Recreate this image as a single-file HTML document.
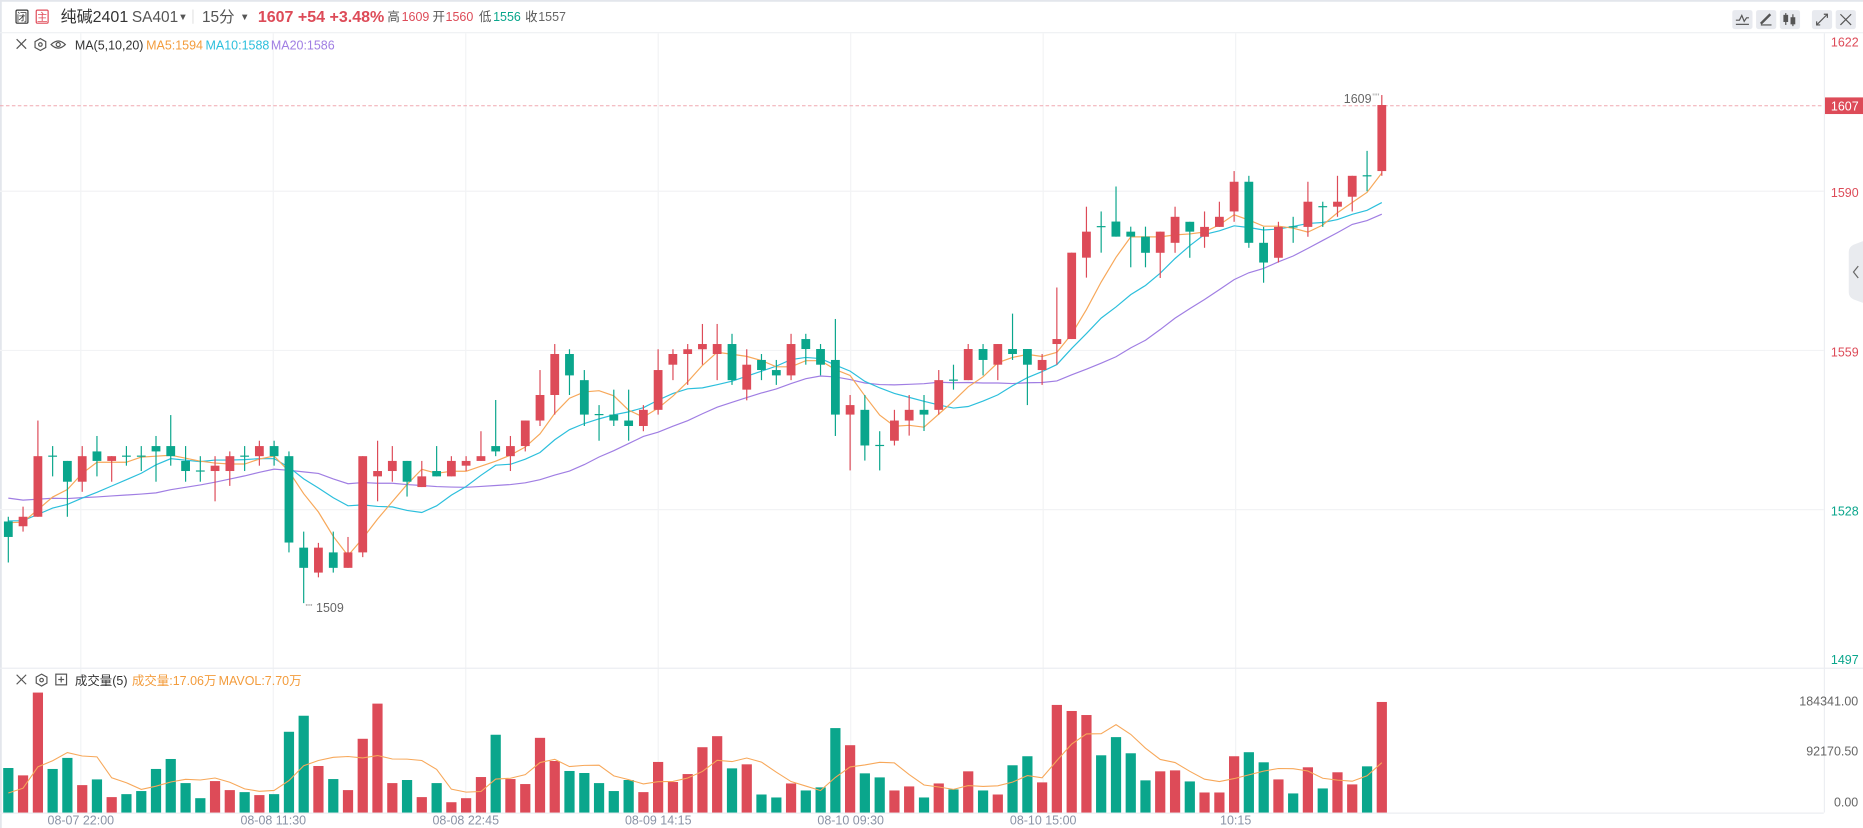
<!DOCTYPE html>
<html><head><meta charset="utf-8"><style>
html,body{margin:0;padding:0;background:#fff;overflow:hidden}
svg{display:block}
text{font-family:"Liberation Sans","Noto Sans CJK SC",sans-serif}
</style></head><body>
<svg id="s" width="1863" height="828" viewBox="0 0 1568 697" preserveAspectRatio="none" xmlns="http://www.w3.org/2000/svg">
<rect x="0" y="0" width="1568" height="697" fill="#fff"/>
<rect x="0" y="0" width="1568" height="1.5" fill="#e3e6ec"/>
<rect x="0" y="0" width="1.5" height="697" fill="#e3e6ec"/>
<line x1="0" y1="27.5" x2="1568" y2="27.5" stroke="#eef0f3" stroke-width="1"/>
<g id="grid" stroke="#f2f3f5" stroke-width="1">
<line x1="0" y1="161" x2="1535" y2="161"/>
<line x1="0" y1="295" x2="1535" y2="295"/>
<line x1="0" y1="429" x2="1535" y2="429"/>
<line x1="68" y1="28" x2="68" y2="684"/>
<line x1="230" y1="28" x2="230" y2="684"/>
<line x1="392" y1="28" x2="392" y2="684"/>
<line x1="554" y1="28" x2="554" y2="684"/>
<line x1="716" y1="28" x2="716" y2="684"/>
<line x1="878" y1="28" x2="878" y2="684"/>
<line x1="1040" y1="28" x2="1040" y2="684"/>
</g>
<line x1="0" y1="562.5" x2="1568" y2="562.5" stroke="#eceef2"/>
<line x1="0" y1="684.5" x2="1535" y2="684.5" stroke="#eceef2"/>
<line x1="1535.5" y1="28" x2="1535.5" y2="684" stroke="#eceef2"/>
<!-- header -->
<rect x="13.5" y="8.5" width="10" height="11" fill="none" stroke="#333" stroke-width="1" rx="1"/>
<text x="18.5" y="17.5" font-size="9" text-anchor="middle" fill="#333">闭</text>
<rect x="30.5" y="8.5" width="10" height="11" fill="none" stroke="#e04b58" stroke-width="1" rx="1"/>
<text x="35.5" y="17.5" font-size="9" text-anchor="middle" fill="#e04b58">主</text>
<text x="51" y="18.5" font-size="13.5" fill="#333">纯碱2401</text>
<text x="111" y="18.5" font-size="13" fill="#555">SA401</text>
<text x="150" y="17" font-size="8" fill="#555">▼</text>
<rect x="162" y="8" width="0.8" height="12" fill="#ddd"/>
<text x="170" y="18.5" font-size="13" fill="#555">15分</text>
<text x="202" y="17" font-size="8" fill="#555">▼</text>
<text x="217" y="18.5" font-size="13.5" font-weight="bold" fill="#dd4b58">1607 +54 +3.48%</text>
<text x="326" y="17.5" font-size="10.5" fill="#555">高</text>
<text x="338" y="17.5" font-size="10.5" fill="#dd4b58">1609</text>
<text x="364" y="17.5" font-size="10.5" fill="#555">开</text>
<text x="375" y="17.5" font-size="10.5" fill="#dd4b58">1560</text>
<text x="403" y="17.5" font-size="10.5" fill="#555">低</text>
<text x="415" y="17.5" font-size="10.5" fill="#0aa68c">1556</text>
<text x="442" y="17.5" font-size="10.5" fill="#555">收</text>
<text x="453" y="17.5" font-size="10.5" fill="#666">1557</text>
<!-- toolbar -->
<g fill="#e8eaef">
<rect x="1458" y="8.5" width="17" height="16" rx="2"/>
<rect x="1478" y="8.5" width="17" height="16" rx="2"/>
<rect x="1498" y="8.5" width="17" height="16" rx="2"/>
<rect x="1525" y="8.5" width="17" height="16" rx="2"/>
<rect x="1545" y="8.5" width="17" height="16" rx="2"/>
</g>
<g stroke="#555" stroke-width="1" fill="none">
<polyline points="1461,17 1464,17 1466,13 1468,18 1470,15 1472,15"/>
<line x1="1461" y1="20.5" x2="1472" y2="20.5"/>
<line x1="1482" y1="20" x2="1490" y2="12" stroke-width="2"/>
<line x1="1482" y1="21" x2="1491" y2="21"/>
<line x1="1503" y1="11" x2="1503" y2="21"/><rect x="1501.5" y="13" width="3" height="5" fill="#555"/>
<line x1="1509" y1="12" x2="1509" y2="22"/><rect x="1507.5" y="15" width="3" height="5" fill="#555"/>
<line x1="1529" y1="21" x2="1538" y2="12"/>
<polyline points="1535,12 1538,12 1538,15"/><polyline points="1529,18 1529,21 1532,21"/>
<line x1="1549" y1="12" x2="1558" y2="21"/><line x1="1558" y1="12" x2="1549" y2="21"/>
</g>
<!-- MA legend -->
<g stroke="#555" stroke-width="1" fill="none">
<line x1="14" y1="33" x2="22" y2="41"/><line x1="22" y1="33" x2="14" y2="41"/>
<polygon points="34,32.5 38.5,35 38.5,40 34,42.5 29.5,40 29.5,35"/><circle cx="34" cy="37.5" r="1.5"/>
<path d="M43,37.5 Q49,31.5 55,37.5 Q49,43.5 43,37.5Z"/><circle cx="49" cy="37.5" r="1.7"/>
</g>
<text x="63" y="41.5" font-size="10.5" fill="#333">MA(5,10,20)</text>
<text x="123" y="41.5" font-size="10.5" fill="#f39c3c">MA5:1594</text>
<text x="173" y="41.5" font-size="10.5" fill="#2cbfdc">MA10:1588</text>
<text x="228" y="41.5" font-size="10.5" fill="#a07ee3">MA20:1586</text>
<!-- right axis -->
<g font-size="10.5">
<text x="1541" y="39" fill="#dd4b58">1622</text>
<text x="1541" y="166" fill="#dd4b58">1590</text>
<text x="1541" y="300" fill="#dd4b58">1559</text>
<text x="1541" y="434" fill="#0aa68c">1528</text>
<text x="1541" y="559" fill="#0aa68c">1497</text>
</g>
<line x1="0" y1="89" x2="1535" y2="89" stroke="#f0a8b0" stroke-width="0.8" stroke-dasharray="3,2"/>
<rect x="1536" y="82" width="32" height="14" fill="#dd4b58"/>
<text x="1541" y="93" font-size="10.5" fill="#fff">1607</text>
<text x="1131" y="86.5" font-size="10.5" fill="#666">1609</text>
<text x="1155" y="84" font-size="8" fill="#999">''''</text>
<text x="257" y="514" font-size="8" fill="#999">''''</text>
<text x="266" y="515" font-size="10.5" fill="#666">1509</text>
<!-- collapse tab -->
<path d="M1568,203 L1560,206 Q1556,208 1556,212 L1556,246 Q1556,250 1560,252 L1568,255Z" fill="#e9ebef"/>
<polyline points="1564,224 1560,229 1564,234" fill="none" stroke="#666" stroke-width="1"/>
<!-- volume legend -->
<g stroke="#555" stroke-width="1" fill="none">
<line x1="14" y1="568" x2="22" y2="576"/><line x1="22" y1="568" x2="14" y2="576"/>
<polygon points="35,567.5 39.5,570 39.5,575 35,577.5 30.5,575 30.5,570"/><circle cx="35" cy="572.5" r="1.5"/>
<rect x="47" y="567.5" width="9" height="9"/><line x1="51.5" y1="569.5" x2="51.5" y2="574.5"/><line x1="49" y1="572" x2="54" y2="572"/>
</g>
<text x="63" y="576.5" font-size="10.5" fill="#333">成交量(5)</text>
<text x="111" y="576.5" font-size="10.5" fill="#f39c3c">成交量:17.06万</text>
<text x="184" y="576.5" font-size="10.5" fill="#f39c3c">MAVOL:7.70万</text>
<g font-size="10.5" fill="#666" text-anchor="end">
<text x="1564" y="594">184341.00</text>
<text x="1564" y="636">92170.50</text>
<text x="1564" y="679">0.00</text>
</g>
<g font-size="10.5" fill="#8a93a6" text-anchor="middle">
<text x="68" y="694">08-07 22:00</text>
<text x="230" y="694">08-08 11:30</text>
<text x="392" y="694">08-08 22:45</text>
<text x="554" y="694">08-09 14:15</text>
<text x="716" y="694">08-10 09:30</text>
<text x="878" y="694">08-10 15:00</text>
<text x="1040" y="694">10:15</text>
</g>
<g id="plot"></g>
</svg>
<script>
var c=[
[439,452,435,473.5,'g'],[435,443,426.5,447.5,'r'],[384,435,354,435,'r'],[384,384,375.5,401,'g'],[388,405.5,388,435,'g'],
[384,405.5,375.5,414,'r'],[380,388,367,401,'g'],[384,388,384,405.5,'r'],[384,384,375.5,392,'g'],[384,384,375.5,396.5,'g'],
[375.5,380,367,405.5,'g'],[375.5,384,349.4,392,'g'],[388,396.5,375.5,405.5,'g'],[396.5,396.5,384,405.5,'g'],[392,396.5,384,422,'r'],
[384,396.5,380,409,'r'],[384,384,375.5,396.5,'g'],[375.5,384,371,392,'r'],[375.5,384,371,392,'g'],[384,456.7,380,465,'g'],
[461,478,447.5,507.7,'g'],[461,482,457,486,'r'],[465,478,447.5,482,'g'],[465,478,452,478,'r'],[384,465,384,469,'r'],
[396.5,401,371,422,'r'],[388,396.5,375.5,405.5,'r'],[388,405.5,388,418,'g'],[401,410,388,410,'r'],[396.5,401,375.5,401,'g'],
[388,401,384,401,'r'],[388,392,384,396.5,'r'],[384,388,363,388,'r'],[375.5,380,336.7,384,'g'],[375.5,384,367,396.5,'r'],
[354,375.5,354,380,'r'],[332.5,354,311.5,358.6,'r'],[298,332.5,289.6,349,'r'],[298,316,294,332.5,'g'],[320,349,311.5,358.6,'g'],
[349,349,341,371,'g'],[349,354,328,358.6,'g'],[354,358.6,328,371,'g'],[345,358.6,341,363,'r'],[311.5,345,294,349,'r'],
[298,307,294,320,'r'],[294,298,289.6,324,'r'],[289.6,294,272.7,307,'r'],[289.6,298,272.7,320,'r'],[289.6,320,281,324,'g'],
[307,328,294,337,'r'],[303,311.5,298,320,'g'],[311.5,316,303,324,'g'],[289.6,316,281,320,'r'],[285.4,293.8,281,307,'g'],
[293.8,307,289.6,316,'g'],[303,349,268.5,367,'g'],[341,349,332.5,396,'r'],[345,375,332.5,387.7,'g'],[375,375,363,396,'g'],
[354,371,345,375,'r'],[345,354,332.5,366.7,'r'],[345,349,332.5,362.8,'g'],[320,345,311.5,349,'r'],[320,320,307,328,'g'],
[293.8,320,289.6,320,'r'],[293.8,303,289.6,316,'g'],[289.6,307,289.6,320,'r'],[293.8,298,264,303,'g'],[293.8,307,293.8,341,'g'],
[303,311.5,298,324,'r'],[285.4,289.6,242,307,'r'],[212.7,285.4,212.7,285.4,'r'],[195,216.9,174,233.7,'r'],[190.8,190.8,178,212.7,'g'],
[186.5,199.2,157,199.2,'g'],[195,199.2,190.8,225,'g'],[199.2,212.8,190.8,225,'g'],[195,212.8,195,234,'r'],[182.5,204.4,174,212.8,'r'],
[186.7,195,186.7,217,'g'],[191,199.3,178,208.6,'r'],[182.5,191,169.8,191,'r'],[153,178,144,186.7,'r'],[153,204.4,148,208.6,'g'],
[204.4,221,191,238,'g'],[191,217,186.7,221,'r'],[191,191,182.5,204.4,'g'],[169.8,191,153,199.3,'r'],[174,174,169.8,191,'g'],
[169.8,174,148,182.5,'r'],[148,165.6,148,178,'r'],[148,148,127,161,'g'],[88.4,144,80,148,'r']];
var v=[133,111,358,130,163,82,99,46,55,64,130,160,88,43,94,67,61,52,55,241,289,139,100,67,220,325,88,97,46,88,31,43,106,232,100,85,223,154,124,118,88,64,97,61,151,91,115,195,228,132,144,54,45,87,66,75,252,201,117,105,66,78,45,87,69,123,66,54,141,168,90,321,303,291,171,225,177,96,123,126,93,60,60,168,180,150,99,57,135,72,120,84,138,330];
var R='#dd4b58',G='#0aa68c',P=document.getElementById('plot'),h='';
function X(i){return 7+i*12.43;}
var closes=[];for(var k=0;k<10;k++)closes.push(400);for(k=0;k<9;k++)closes.push(437);
var off=closes.length;
c.forEach(function(d){closes.push(d[4]=='r'?d[0]:d[1]);});
function ma(arr,n,o){var pts=[];for(var i=0;i<c.length;i++){var s=0;for(var j=0;j<n;j++)s+=arr[o+i-j];pts.push(X(i).toFixed(1)+','+(s/n).toFixed(1));}return pts.join(' ');}
var sc=101/358;
var vv=[40,40,40,40].concat(v).map(function(x){return x*sc;});
for(var i=0;i<v.length;i++){var hh=v[i]*sc;h+='<rect x="'+(X(i)-4.3).toFixed(1)+'" y="'+(684-hh).toFixed(1)+'" width="8.6" height="'+hh.toFixed(1)+'" fill="'+(c[i][4]=='r'?R:G)+'"/>';}
var vp=[];for(i=0;i<v.length;i++){var s=0;for(var j=0;j<5;j++)s+=vv[4+i-j];vp.push(X(i).toFixed(1)+','+(684-s/5).toFixed(1));}
h+='<polyline points="'+vp.join(' ')+'" fill="none" stroke="#f7a85a" stroke-width="0.9"/>';
h+='<polyline points="'+ma(closes,20,off)+'" fill="none" stroke="#a07ee3" stroke-width="1"/>';
h+='<polyline points="'+ma(closes,10,off)+'" fill="none" stroke="#2cbfdc" stroke-width="1"/>';
h+='<polyline points="'+ma(closes,5,off)+'" fill="none" stroke="#f7a85a" stroke-width="1"/>';
c.forEach(function(d,i){var col=d[4]=='r'?R:G,x=X(i);
h+='<line x1="'+x.toFixed(1)+'" y1="'+d[2]+'" x2="'+x.toFixed(1)+'" y2="'+d[3]+'" stroke="'+col+'" stroke-width="1"/>';
var bh=Math.max(d[1]-d[0],1);
h+='<rect x="'+(x-3.7).toFixed(1)+'" y="'+(d[1]-d[0]<1?d[0]-0.5:d[0])+'" width="7.4" height="'+bh+'" fill="'+col+'"/>';});
P.innerHTML=h;
</script>
</body></html>
